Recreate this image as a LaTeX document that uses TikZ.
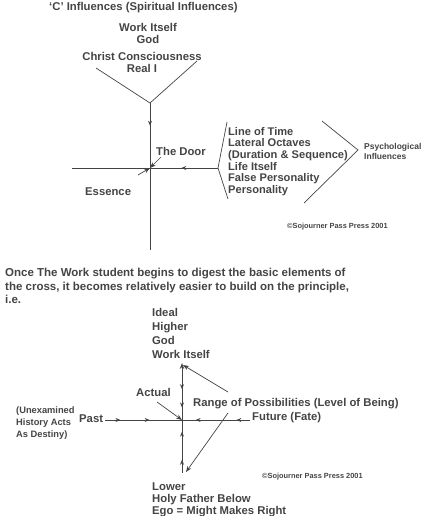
\documentclass[tikz,border=0pt]{standalone}
\usepackage{fontspec}
\setmainfont{Liberation Sans}
\usetikzlibrary{positioning,arrows.meta,decorations.markings}
\definecolor{ink}{HTML}{444444}

\begin{document}
\begin{tikzpicture}[
    x=1pt, y=-1pt,
    font=\bfseries\fontsize{11.3}{12}\selectfont,
    >={Stealth[length=6pt,width=4.5pt]},
    txt/.style    = {anchor=west, inner sep=0pt, text=ink},
    block/.style  = {anchor=north west, inner sep=0pt, text=ink, align=left},
    copyr/.style  = {anchor=west, inner sep=0pt, text=ink,
                     font=\bfseries\fontsize{7.4}{8}\selectfont},
    axis/.style   = {draw=ink, line width=0.9pt},
    thin/.style   = {draw=ink, line width=0.7pt},
    tipat/.style  = {postaction={decorate, decoration={markings,
                     mark=at position #1 with {\arrow{Stealth[length=5pt,width=4pt]}}}}}
]
\useasboundingbox (0,0) rectangle (425,516);

% --- Top cross: 'C' influences ---------------------------------------------
\node[txt] (title) at (49,8) {`C' Influences (Spiritual Influences)};

\node[block, align=center, anchor=north] (spirit) at (148,23)
  {Work Itself\\God};
\node[block, align=center, anchor=north] (christ) at (142,52)
  {Christ Consciousness\\Real I};

\coordinate (vL)    at (96,68);
\coordinate (vR)    at (197,61);
\coordinate (vtip)  at (150,103);
\coordinate (door)  at (150,168);
\coordinate (vbot)  at (150,250);
\coordinate (hleft) at (72,168);
\coordinate (brTop) at (227,122);
\coordinate (brTip) at (218,168);
\coordinate (brBot) at (228,199);

\draw[thin] (vL) -- (vtip) -- (vR);
\draw[axis, tipat=0.35] (vtip) -- (door);
\draw[axis] (door) -- (vbot);
\draw[axis] (hleft) -- (door);
\draw[axis, tipat=0.54] (brTip) -- (door);
\draw[thin] (brTop) -- (brTip) -- (brBot);

\node[txt] (theDoor) at (156,151) {The Door};
\node[txt] (essence) at (85,192) {Essence};
\coordinate (dA) at (161,157);
\draw[thin, ->] (dA) -- (door);
\coordinate (eA) at (138,175);
\draw[thin, ->] (eA) -- (door);

\node[block, font=\bfseries\fontsize{11.1}{11.6}\selectfont] (timelist) at (228,127)
  {Line of Time\\Lateral Octaves\\(Duration \& Sequence)\\Life Itself\\False Personality\\Personality};

\coordinate (chTop) at (322,121);
\coordinate (chTip) at (358,150);
\coordinate (chBot) at (304,203);
\draw[thin] (chTop) -- (chTip) -- (chBot);

\node[block, font=\bfseries\fontsize{8.5}{10.5}\selectfont] (psych) at (364,143)
  {Psychological\\Influences};

\node[copyr] (copyA) at (287,227) {\textcopyright Sojourner Pass Press 2001};

% --- Text between ------------------------------------------------------------
\node[block, font=\bfseries\fontsize{11.5}{13.5}\selectfont] (once) at (5,268)
  {Once The Work student begins to digest the basic elements of\\
   the cross, it becomes relatively easier to build on the principle,\\
   i.e.};

% --- Bottom cross -------------------------------------------------------------
\node[block, font=\bfseries\fontsize{11.3}{14}\selectfont] (ideal) at (152,308)
  {Ideal\\Higher\\God\\Work Itself};

\coordinate (top)    at (182,363);
\coordinate (centre) at (182,420);
\coordinate (bot)    at (182,473);
\coordinate (pastE)  at (105,420);
\coordinate (futW)   at (250,420);

\draw[axis, <-, tipat=0.46, tipat=0.78] (top) -- (centre);
\draw[axis, tipat=0.25, tipat=0.78] (bot) -- (centre);
\draw[axis, tipat=0.2, tipat=0.58] (pastE) -- (centre);
\draw[axis, tipat=0.2, tipat=0.8] (futW) -- (centre);

\node[txt] (future) at (252,418) {Future (Fate)};
\node[txt] (past)   at (79,419)  {Past};
\node[block, font=\bfseries\fontsize{9.3}{12}\selectfont] (unexamined) at (16,407)
  {(Unexamined\\History Acts\\As Destiny)};

\node[txt] (range)  at (193,404) {Range of Possibilities (Level of Being)};
\coordinate (rUp) at (228,392);
\coordinate (rDn) at (228,413);
\draw[thin, ->] (rUp) -- (183,365);
\draw[thin, ->] (rDn) -- (186,472);

\node[txt] (actual) at (136,392) {Actual};
\coordinate (aA) at (157,402);
\draw[thin, ->] (aA) -- (centre);

\node[copyr] (copyB) at (262,477) {\textcopyright Sojourner Pass Press 2001};

\node[block, font=\bfseries\fontsize{11.3}{11.6}\selectfont] (lower) at (152,483)
  {Lower\\Holy Father Below\\Ego = Might Makes Right};

\end{tikzpicture}
\end{document}
